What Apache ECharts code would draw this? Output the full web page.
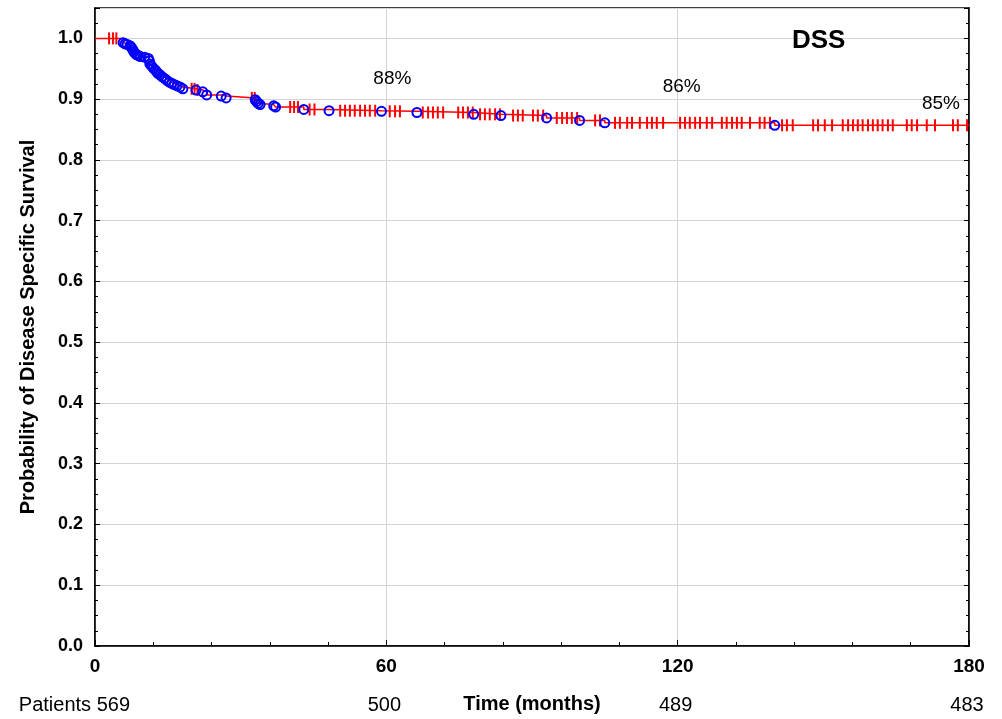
<!DOCTYPE html>
<html>
<head>
<meta charset="utf-8">
<title>DSS</title>
<script src="https://cdn.jsdelivr.net/npm/echarts/dist/echarts.min.js"></script>
<style>
  html, body { margin: 0; padding: 0; background: #fff; }
  #main { width: 1002px; height: 719px; }
</style>
</head>
<body>
<div id="main"></div>
<script>
// Kaplan-Meier, disease specific survival
// event times (months) and survival right after each event
var eventTimes = [5.8, 6.2, 6.6, 7.2, 7.5, 7.8, 8.0, 8.3, 8.6, 8.9, 9.3, 10.2, 11.0, 11.2, 11.3, 11.6,
    12.0, 12.4, 12.7, 13.0, 13.4, 13.8, 14.3, 14.8, 15.3, 15.8, 16.3, 16.9, 17.5, 18.1,
    20.8, 22.2, 23.0, 26.0, 27.0, 33.0, 33.3, 33.6, 34.0, 36.8, 37.2, 43.0, 48.2, 59.0, 66.3, 78.0, 83.6,
    93.0, 99.8, 105.0, 140.0];
var eventSurv = [0.993, 0.991, 0.990, 0.988, 0.985, 0.981, 0.978, 0.975, 0.973, 0.972, 0.970, 0.969, 0.967, 0.963, 0.958, 0.955,
    0.951, 0.948, 0.945, 0.942, 0.940, 0.937, 0.934, 0.931, 0.928, 0.926, 0.924, 0.922, 0.920, 0.917,
    0.915, 0.912, 0.907, 0.905, 0.902, 0.899, 0.896, 0.893, 0.891, 0.889, 0.887, 0.883, 0.881, 0.880, 0.878, 0.875, 0.873,
    0.869, 0.865, 0.861, 0.857];
// censored observations (months)
var censorTimes = [2.9, 3.7, 4.4, 19.9, 20.5, 21.1, 32.3, 32.9, 40.2, 41.0, 41.8, 44.2, 45.2,
    50.5, 51.5, 52.5, 53.5, 54.6, 55.6, 56.6, 57.7, 60.7, 61.8, 62.8,
    67.5, 68.6, 69.6, 70.6, 71.7, 74.8, 75.8, 76.8, 77.8, 79.3, 80.3, 81.3, 82.4, 83.4,
    86.1, 87.1, 88.1, 90.2, 91.2, 92.3, 95.1, 96.2, 97.2, 98.2, 99.3, 103.0, 104.0,
    107.1, 108.1, 109.6, 110.6, 112.2, 113.7, 114.7, 115.7, 117.0,
    120.5, 121.5, 122.5, 123.6, 124.6, 126.0, 127.1, 129.1, 130.1, 131.2, 132.2, 133.2, 134.9,
    136.9, 137.9, 139.0, 141.5, 142.5, 143.7, 147.9, 148.9, 150.3, 151.8,
    154.0, 155.1, 156.1, 157.1, 158.1, 159.2, 160.2, 161.2, 162.2, 163.3, 164.3,
    167.2, 168.2, 169.3, 171.3, 173.0, 176.7, 177.7, 179.6];
var xTicks = [0, 60, 120, 180];
var patientsAtRisk = [569, 500, 489, 483];
var survivalLabels = ['88%', '86%', '85%'];

var FONT = 'Liberation Sans, Arial, sans-serif';

function survAt(t) {
    var s = 1;
    for (var i = 0; i < eventTimes.length; i++) {
        if (eventTimes[i] <= t) s = eventSurv[i];
    }
    return s;
}

var curve = [[0, 1]];
var events = [];
for (var i = 0; i < eventTimes.length; i++) {
    curve.push([eventTimes[i], eventSurv[i]]);
    events.push([eventTimes[i], eventSurv[i]]);
}
curve.push([180, survAt(180)]);

var censored = censorTimes.map(function (t) { return [t, survAt(t)]; });

var labelOffsets = [[6, -33], [4, -36], [-28, -22]];
var pctData = survivalLabels.map(function (txt, i) {
    var t = xTicks[i + 1];
    return { value: [t, survAt(t)], name: txt, label: { offset: labelOffsets[i] } };
});

var option = {
    backgroundColor: '#fff',
    animation: false,
    title: {
        text: 'DSS',
        left: 787,
        top: 23,
        textStyle: { fontFamily: FONT, fontSize: 26, fontWeight: 'bold', color: '#000' }
    },
    grid: {
        left: 95, right: 33, top: 8, bottom: 71,
        show: true, borderColor: '#000', borderWidth: 1.5
    },
    xAxis: {
        type: 'value',
        min: 0, max: 180, interval: 60,
        name: 'Time (months)',
        nameLocation: 'middle',
        nameGap: 48,
        nameTextStyle: { fontFamily: FONT, fontSize: 20, fontWeight: 'bold', color: '#000' },
        axisLine: { lineStyle: { color: '#000', width: 1.5 } },
        axisTick: { inside: true, length: 6, lineStyle: { color: '#000' } },
        minorTick: { show: true, splitNumber: 5, length: 4, lineStyle: { color: '#000' } },
        splitLine: { show: true, lineStyle: { color: '#d4d4d4', width: 1 } },
        axisLabel: { fontFamily: FONT, fontSize: 19, fontWeight: 'bold', color: '#000', margin: 11 }
    },
    yAxis: [{
        type: 'value',
        min: 0, max: 1.05, interval: 0.1,
        name: 'Probability of Disease Specific Survival',
        nameLocation: 'middle',
        nameGap: 57,
        nameTextStyle: { fontFamily: FONT, fontSize: 20, fontWeight: 'bold', color: '#000' },
        axisLine: { lineStyle: { color: '#000', width: 1.5 } },
        axisTick: { inside: true, length: 5, lineStyle: { color: '#000' } },
        minorTick: { show: true, splitNumber: 4, length: 3, lineStyle: { color: '#000' } },
        splitLine: { show: true, lineStyle: { color: '#d4d4d4', width: 1 } },
        axisLabel: {
            fontFamily: FONT, fontSize: 18, fontWeight: 'bold', color: '#000', margin: 12,
            showMaxLabel: false,
            formatter: function (v) { return v.toFixed(1); }
        }
    }, {
        type: 'value',
        position: 'right',
        min: 0, max: 1.05, interval: 0.1,
        axisLine: { show: true, lineStyle: { color: '#000', width: 1.5 } },
        axisTick: { show: true, inside: true, length: 5, lineStyle: { color: '#000' } },
        minorTick: { show: true, splitNumber: 4, length: 3, lineStyle: { color: '#000' } },
        splitLine: { show: false },
        axisLabel: { show: false }
    }],
    series: [
        {
            name: 'DSS',
            type: 'line',
            step: 'end',
            symbol: 'none',
            lineStyle: { color: '#ff0000', width: 1.5 },
            data: curve,
            z: 2
        },
        {
            name: 'censored',
            type: 'scatter',
            symbol: 'rect',
            symbolSize: [2, 12],
            itemStyle: { color: '#ff0000', opacity: 1 },
            data: censored,
            z: 3
        },
        {
            name: 'events',
            type: 'scatter',
            symbol: 'circle',
            symbolSize: 9,
            itemStyle: { color: 'rgba(0,0,0,0)', borderColor: '#0000ff', borderWidth: 2, opacity: 1 },
            data: events,
            z: 4
        },
        {
            name: 'pct',
            type: 'scatter',
            symbolSize: 0,
            silent: true,
            itemStyle: { opacity: 1 },
            label: {
                show: true,
                position: 'inside',
                formatter: function (p) { return p.name; },
                fontFamily: FONT, fontSize: 19, color: '#000', opacity: 1,
                textBorderWidth: 0
            },
            data: pctData,
            z: 5
        }
    ]
};

var myChart = echarts.init(document.getElementById('main'));
myChart.setOption(option);

// patients at risk row, under the x axis ticks
var riskText = patientsAtRisk.map(function (n, i) {
    var px = myChart.convertToPixel({ xAxisIndex: 0 }, xTicks[i]);
    var first = i === 0;
    return {
        type: 'text',
        x: first ? px + 35 : px - 2,
        y: 705,
        style: {
            text: (first ? 'Patients ' : '') + n,
            textAlign: first ? 'right' : 'center',
            textVerticalAlign: 'middle',
            fontFamily: FONT, fontSize: 20, fill: '#000'
        }
    };
});
myChart.setOption({ graphic: riskText });
</script>
</body>
</html>
